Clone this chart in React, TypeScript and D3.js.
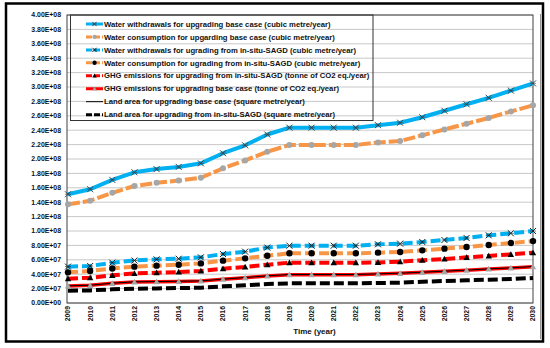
import React from "react";
import * as d3 from "d3";

const years = [2009, 2010, 2011, 2012, 2013, 2014, 2015, 2016, 2017, 2018, 2019, 2020, 2021, 2022, 2023, 2024, 2025, 2026, 2027, 2028, 2029, 2030];

// values in units of 1e7
const waterWithdrawBase = [15.1, 15.8, 17.1, 18.15, 18.6, 18.9, 19.4, 20.8, 21.9, 23.4, 24.35, 24.35, 24.35, 24.35, 24.7, 25.04, 25.8, 26.7, 27.6, 28.5, 29.5, 30.5];
const waterConsBase = [13.7, 14.2, 15.3, 16.25, 16.7, 17.0, 17.4, 18.7, 19.8, 21.0, 21.95, 21.95, 21.95, 21.95, 22.3, 22.5, 23.3, 24.1, 24.9, 25.7, 26.6, 27.45];
const waterWithdrawSagd = [5.05, 5.14, 5.6, 5.9, 6.06, 6.15, 6.34, 6.8, 7.13, 7.7, 7.96, 7.96, 7.96, 7.96, 8.15, 8.24, 8.47, 8.75, 9.03, 9.4, 9.68, 10.0];
const waterConsSagd = [4.26, 4.44, 4.8, 5.05, 5.19, 5.32, 5.5, 5.88, 6.2, 6.57, 6.9, 6.9, 6.9, 6.9, 6.99, 7.08, 7.31, 7.55, 7.78, 8.06, 8.33, 8.6];
const ghgSagd = [3.38, 3.5, 3.84, 4.12, 4.2, 4.3, 4.44, 4.77, 5.0, 5.32, 5.6, 5.6, 5.6, 5.6, 5.63, 5.74, 5.93, 6.11, 6.34, 6.53, 6.76, 6.99];
const ghgBase = [2.36, 2.45, 2.73, 2.92, 2.96, 3.0, 3.05, 3.29, 3.52, 3.75, 3.94, 3.94, 3.94, 3.94, 4.03, 4.12, 4.26, 4.4, 4.54, 4.72, 4.86, 5.05];
const landBase = [2.38, 2.47, 2.75, 2.94, 2.98, 3.02, 3.07, 3.31, 3.54, 3.77, 3.96, 3.96, 3.96, 3.96, 4.05, 4.14, 4.28, 4.42, 4.56, 4.74, 4.88, 5.07];
const landSagd = [1.71, 1.75, 1.9, 1.99, 2.03, 2.08, 2.12, 2.31, 2.45, 2.64, 2.73, 2.73, 2.73, 2.73, 2.78, 2.82, 2.96, 3.05, 3.15, 3.24, 3.33, 3.47];

const yTickLabels = ["0.00E+00", "2.00E+07", "4.00E+07", "6.00E+07", "8.00E+07", "1.00E+08", "1.20E+08", "1.40E+08", "1.60E+08", "1.80E+08", "2.00E+08", "2.20E+08", "2.40E+08", "2.60E+08", "2.80E+08", "3.00E+08", "3.20E+08", "3.40E+08", "3.60E+08", "3.80E+08", "4.00E+08"];

const legendLabels = [
  "Water withdrawals for upgrading base case (cubic metre/year)",
  "Water consumption for upgarding base case (cubic metre/year)",
  "Water withdrawals for ugrading from in-situ-SAGD (cubic metre/year)",
  "Water consumption for ugrading from in-situ-SAGD (cubic metre/year)",
  "GHG emissions for upgrading from in-situ-SAGD (tonne of CO2 eq./year)",
  "GHG emissions for upgrading base case (tonne of CO2 eq./year)",
  "Land area for upgrading base case (square metre/year)",
  "Land area for upgrading from in-situ-SAGD (square metre/year)",
];

type Marker = "x" | "circle" | "triangle" | "none";
interface Style { color: string; width: number; dash: string; marker: Marker; mColor: string; mSize: number; }

const styles: Style[] = [
  { color: "#00B0F0", width: 4, dash: "none", marker: "x", mColor: "#404040", mSize: 3 },
  { color: "#F79646", width: 4, dash: "12,3", marker: "circle", mColor: "#A6A6A6", mSize: 3 },
  { color: "#00B0F0", width: 4, dash: "10,4", marker: "x", mColor: "#202020", mSize: 3 },
  { color: "#F79646", width: 4, dash: "10,4", marker: "circle", mColor: "#000000", mSize: 3.2 },
  { color: "#FF0000", width: 4, dash: "10,4", marker: "triangle", mColor: "#000000", mSize: 3.2 },
  { color: "#FF0000", width: 3.5, dash: "none", marker: "triangle", mColor: "#A6A6A6", mSize: 3.2 },
  { color: "#000000", width: 1, dash: "none", marker: "none", mColor: "#000", mSize: 0 },
  { color: "#000000", width: 4, dash: "10,4", marker: "none", mColor: "#000", mSize: 0 },
];

const seriesData = [waterWithdrawBase, waterConsBase, waterWithdrawSagd, waterConsSagd, ghgSagd, ghgBase, landBase, landSagd];

const L = 67, R = 533, T = 15, B = 303;
const FONT = "'Liberation Sans', Arial, sans-serif";

function MarkerShape({ m, x, y, color, size }: { m: Marker; x: number; y: number; color: string; size: number }) {
  if (m === "x") {
    const s = size;
    return (
      <g stroke={color} strokeWidth={1}>
        <line x1={x - s} y1={y - s} x2={x + s} y2={y + s} />
        <line x1={x - s} y1={y + s} x2={x + s} y2={y - s} />
        <line x1={x - s} y1={y} x2={x + s} y2={y} strokeWidth={0.6} />
      </g>
    );
  }
  if (m === "circle") return <circle cx={x} cy={y} r={size} fill={color} />;
  if (m === "triangle") {
    const s = size;
    return <path d={`M${x},${y - s}L${x + s},${y + s * 0.8}L${x - s},${y + s * 0.8}Z`} fill={color} />;
  }
  return null;
}

export default function App() {
  const x = d3.scalePoint<number>().domain(years).range([L + 1, R]);
  const y = d3.scaleLinear().domain([0, 40]).range([B, T]);
  const line = d3.line<number>().x((_, i) => x(years[i])!).y((d) => y(d));
  const drawOrder = [7, 5, 6, 4, 3, 2, 1, 0];

  return (
    <svg width={550} height={348} style={{ position: "absolute", left: 0, top: 0 }} fontFamily={FONT}>
      <rect x={0} y={0} width={550} height={348} fill="#fff" />
      {/* gridlines */}
      {yTickLabels.map((_, i) => (
        <line key={i} x1={L} x2={R} y1={y(i * 2)} y2={y(i * 2)} stroke="#C8C8C8" strokeWidth={1} />
      ))}
      {/* plot border */}
      <rect x={L} y={T} width={R - L} height={B - T} fill="none" stroke="#404040" strokeWidth={1} />
      {/* y labels */}
      {yTickLabels.map((t, i) => (
        <text key={t} x={61} y={y(i * 2)} dy="0.35em" textAnchor="end" fontSize={6.9} fontWeight="bold" fill="#111">{t}</text>
      ))}
      {/* x labels */}
      {years.map((yr) => (
        <text key={yr} transform={`translate(${x(yr)! + 2.4},306) rotate(-90)`} textAnchor="end" fontSize={6.9} fontWeight="bold" fill="#111">{yr}</text>
      ))}
      <text x={314.5} y={334} textAnchor="middle" fontSize={8} fontWeight="bold" fill="#111">Time (year)</text>
      {/* lines */}
      {drawOrder.map((si) => {
        const st = styles[si];
        return (
          <path key={si} d={line(seriesData[si]) || ""} fill="none" stroke={st.color} strokeWidth={st.width}
            strokeDasharray={st.dash} strokeLinejoin="round" />
        );
      })}
      {drawOrder.map((si) => {
        const st = styles[si];
        if (st.marker === "none") return null;
        return (
          <g key={"m" + si}>
            {seriesData[si].map((v, i) => (
              <MarkerShape key={i} m={st.marker} x={x(years[i])!} y={y(v)} color={st.mColor} size={st.mSize} />
            ))}
          </g>
        );
      })}
      {/* legend */}
      <rect x={70.5} y={15} width={302.5} height={105.5} fill="none" stroke="#333" strokeWidth={1} />
      {legendLabels.map((lab, i) => {
        const st = styles[i];
        const ly = 24 + i * 12.95;
        return (
          <g key={lab}>
            <line x1={86} x2={103} y1={ly} y2={ly} stroke={st.color} strokeWidth={st.width === 1 ? 1 : 3}
              strokeDasharray={st.dash === "none" ? "none" : "6,2"} />
            <MarkerShape m={st.marker} x={94.5} y={ly} color={st.mColor} size={st.mSize * 0.7} />
            <text x={104} y={ly} dy="0.35em" fontSize={7.7} fontWeight="bold" fill="#111">{lab}</text>
          </g>
        );
      })}
      {/* outer frame */}
      <rect x={6} y={3.5} width={537} height={338} fill="none" stroke="#000" strokeWidth={2.5} />
      <line x1={540.5} x2={540.5} y1={14} y2={339} stroke="#777" strokeWidth={0.8} />
    </svg>
  );
}
